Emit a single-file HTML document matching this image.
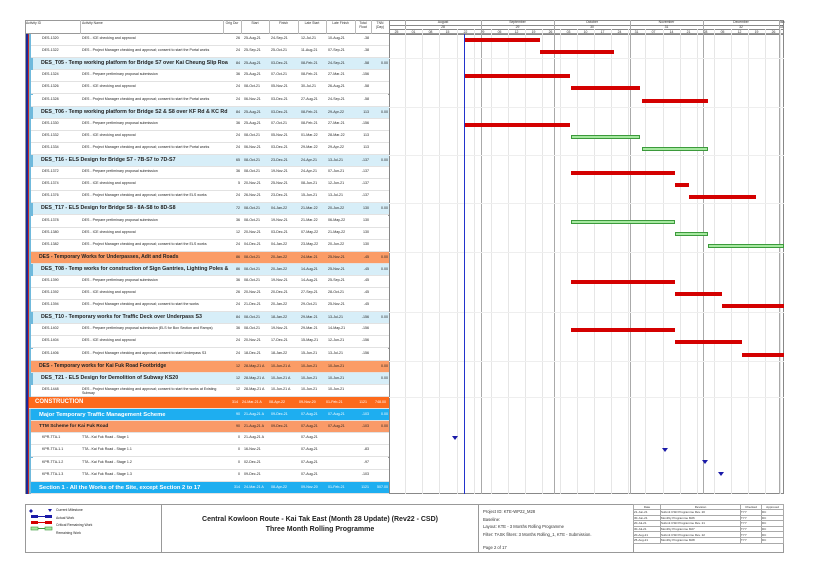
<!DOCTYPE html>
<html><head><meta charset="utf-8"><style>
*{margin:0;padding:0;box-sizing:border-box}
body{width:832px;height:588px;background:#fff;position:relative;overflow:hidden;font-family:"Liberation Sans",sans-serif;color:#222}
.a{position:absolute}
.r{position:absolute;left:31px;width:358px;height:12.1px;font-size:3.6px;border-bottom:1px solid #e2e2e2;background:#fff;line-height:1.1}
.r span{position:absolute;top:3px;white-space:nowrap}
.c1{left:11px}.c2{left:51px;width:138px;white-space:normal!important}
.c3{left:192px;width:17px;text-align:right}.c4{left:213px}.c5{left:240px}.c6{left:270px}.c7{left:297px}.c8{left:324px;width:14px;text-align:right}.c9{left:341px;width:16px;text-align:right}
.b span{top:4px;font-weight:normal;font-size:3.6px}
.b .t{left:8px;font-size:5.3px;font-weight:bold;top:2.5px}
.bl{background:#d7eef8;left:33px;width:356px}
.bl .c3{left:190px}.bl .c4{left:211px}.bl .c5{left:238px}.bl .c6{left:268px}.bl .c7{left:295px}.bl .c8{left:322px}.bl .c9{left:339px}
.or{background:#fb9c66}
.or .t{font-size:5.1px;left:8px}
.bar{position:absolute;height:4px}
.rd{background:#d40000}
.gr{background:#a6e8a0;border:1px solid #3c9a3c}
.vl{position:absolute;top:20px;width:1px;height:474px;background:#e6e6e6}
.ml{background:#aaa}
.hd{position:absolute;font-size:3.4px;text-align:center;color:#333}
</style></head><body>
<div class="a" style="left:25px;top:20px;width:759px;height:14px;border:1px solid #999;background:#fff"></div>
<div class="hd" style="left:26px;top:21px">Activity ID</div>
<div class="hd" style="left:82px;top:21px">Activity Name</div>
<div class="hd" style="left:223px;top:21px;width:18px">Orig Dur</div>
<div class="hd" style="left:241px;top:21px;width:28px">Start</div>
<div class="hd" style="left:269px;top:21px;width:29px">Finish</div>
<div class="hd" style="left:298px;top:21px;width:28px">Late Start</div>
<div class="hd" style="left:326px;top:21px;width:29px">Late Finish</div>
<div class="hd" style="left:355px;top:21px;width:16px">Total<br>Float</div>
<div class="hd" style="left:371px;top:21px;width:18px">TNN<br>(Day)</div>
<div class="a" style="left:80px;top:20px;width:1px;height:14px;background:#bbb"></div>
<div class="a" style="left:223px;top:20px;width:1px;height:14px;background:#bbb"></div>
<div class="a" style="left:241px;top:20px;width:1px;height:14px;background:#bbb"></div>
<div class="a" style="left:269px;top:20px;width:1px;height:14px;background:#bbb"></div>
<div class="a" style="left:298px;top:20px;width:1px;height:14px;background:#bbb"></div>
<div class="a" style="left:326px;top:20px;width:1px;height:14px;background:#bbb"></div>
<div class="a" style="left:355px;top:20px;width:1px;height:14px;background:#bbb"></div>
<div class="a" style="left:371px;top:20px;width:1px;height:14px;background:#bbb"></div>
<div class="a" style="left:25px;top:34px;width:364px;height:460px;border:1px solid #999;border-top:none"></div>
<div class="a" style="left:26px;top:34px;width:1.5px;height:460px;background:#1a2a9a"></div>
<div class="a" style="left:27.5px;top:34px;width:1.5px;height:460px;background:#c03030"></div>
<div class="a" style="left:29px;top:34px;width:4px;height:460px;background:#6fb9dc"></div>

<div class="a" style="left:389px;top:20px;width:395px;height:474px;border:1px solid #888"></div>
<div class="a" style="left:389px;top:25px;width:395px;height:1px;background:#888"></div>
<div class="a" style="left:389px;top:29px;width:395px;height:1px;background:#888"></div>
<div class="a" style="left:389px;top:34px;width:395px;height:1px;background:#888"></div>
<div class="hd" style="left:405px;top:20px;width:76px">August</div>
<div class="hd" style="left:481px;top:20px;width:73px">September</div>
<div class="hd" style="left:554px;top:20px;width:76px">October</div>
<div class="hd" style="left:630px;top:20px;width:73px">November</div>
<div class="hd" style="left:703px;top:20px;width:76px">December</div>
<div class="hd" style="left:779px;top:20px;width:5px">Jan</div>
<div class="hd" style="left:405px;top:25px;width:76px">28</div>
<div class="hd" style="left:481px;top:25px;width:73px">29</div>
<div class="hd" style="left:554px;top:25px;width:76px">30</div>
<div class="hd" style="left:630px;top:25px;width:73px">31</div>
<div class="hd" style="left:703px;top:25px;width:76px">32</div>
<div class="hd" style="left:779px;top:25px;width:5px">33</div>
<div class="hd" style="left:388px;top:30px;width:17px">25</div><div class="hd" style="left:405px;top:30px;width:17px">01</div><div class="hd" style="left:422px;top:30px;width:17px">08</div><div class="hd" style="left:439px;top:30px;width:17px">15</div><div class="hd" style="left:457px;top:30px;width:17px">22</div><div class="hd" style="left:474px;top:30px;width:17px">29</div><div class="hd" style="left:491px;top:30px;width:17px">05</div><div class="hd" style="left:508px;top:30px;width:17px">12</div><div class="hd" style="left:525px;top:30px;width:17px">19</div><div class="hd" style="left:542px;top:30px;width:17px">26</div><div class="hd" style="left:560px;top:30px;width:17px">03</div><div class="hd" style="left:577px;top:30px;width:17px">10</div><div class="hd" style="left:594px;top:30px;width:17px">17</div><div class="hd" style="left:611px;top:30px;width:17px">24</div><div class="hd" style="left:628px;top:30px;width:17px">31</div><div class="hd" style="left:645px;top:30px;width:17px">07</div><div class="hd" style="left:663px;top:30px;width:17px">14</div><div class="hd" style="left:680px;top:30px;width:17px">21</div><div class="hd" style="left:697px;top:30px;width:17px">28</div><div class="hd" style="left:714px;top:30px;width:17px">05</div><div class="hd" style="left:731px;top:30px;width:17px">12</div><div class="hd" style="left:748px;top:30px;width:17px">19</div><div class="hd" style="left:765px;top:30px;width:17px">26</div>
<div class="vl" style="left:405px;top:29px;height:465px"></div><div class="vl" style="left:422px;top:29px;height:465px"></div><div class="vl" style="left:439px;top:29px;height:465px"></div><div class="vl" style="left:457px;top:29px;height:465px"></div><div class="vl" style="left:474px;top:29px;height:465px"></div><div class="vl" style="left:491px;top:29px;height:465px"></div><div class="vl" style="left:508px;top:29px;height:465px"></div><div class="vl" style="left:525px;top:29px;height:465px"></div><div class="vl" style="left:542px;top:29px;height:465px"></div><div class="vl" style="left:560px;top:29px;height:465px"></div><div class="vl" style="left:577px;top:29px;height:465px"></div><div class="vl" style="left:594px;top:29px;height:465px"></div><div class="vl" style="left:611px;top:29px;height:465px"></div><div class="vl" style="left:628px;top:29px;height:465px"></div><div class="vl" style="left:645px;top:29px;height:465px"></div><div class="vl" style="left:663px;top:29px;height:465px"></div><div class="vl" style="left:680px;top:29px;height:465px"></div><div class="vl" style="left:697px;top:29px;height:465px"></div><div class="vl" style="left:714px;top:29px;height:465px"></div><div class="vl" style="left:731px;top:29px;height:465px"></div><div class="vl" style="left:748px;top:29px;height:465px"></div><div class="vl" style="left:765px;top:29px;height:465px"></div><div class="vl" style="left:780px;top:29px;height:465px"></div>
<div class="vl ml" style="left:405px;top:20px;height:9px"></div><div class="vl ml" style="left:481px"></div><div class="vl ml" style="left:554px"></div><div class="vl ml" style="left:630px"></div><div class="vl ml" style="left:703px"></div><div class="vl ml" style="left:779px"></div>
<div class="a" style="left:389px;top:58px;width:395px;height:1px;background:#eee"></div>
<div class="a" style="left:389px;top:107px;width:395px;height:1px;background:#eee"></div>
<div class="a" style="left:389px;top:155px;width:395px;height:1px;background:#eee"></div>
<div class="a" style="left:389px;top:203px;width:395px;height:1px;background:#eee"></div>
<div class="a" style="left:389px;top:252px;width:395px;height:1px;background:#eee"></div>
<div class="a" style="left:389px;top:312px;width:395px;height:1px;background:#eee"></div>
<div class="a" style="left:389px;top:361px;width:395px;height:1px;background:#eee"></div>
<div class="a" style="left:389px;top:397px;width:395px;height:1px;background:#eee"></div>

<div class="r" style="top:34px"><span class="c1">DES-1320</span><span class="c2">DES - ICE checking and approval</span><span class="c3">26</span><span class="c4">25-Aug-21</span><span class="c5">24-Sep-21</span><span class="c6">12-Jul-21</span><span class="c7">10-Aug-21</span><span class="c8">-38</span></div>
<div class="r" style="top:46px"><span class="c1">DES-1322</span><span class="c2">DES - Project Manager checking and approval; consent to start the Portal works</span><span class="c3">24</span><span class="c4">25-Sep-21</span><span class="c5">25-Oct-21</span><span class="c6">11-Aug-21</span><span class="c7">07-Sep-21</span><span class="c8">-38</span></div>
<div class="r b bl" style="top:58px"><span class="t">DES_T05 - Temp working platform for Bridge S7 over Kai Cheung Slip Roa</span><span class="c3">84</span><span class="c4">25-Aug-21</span><span class="c5">03-Dec-21</span><span class="c6">08-Feb-21</span><span class="c7">24-Sep-21</span><span class="c8">-58</span><span class="c9">0.00</span></div>
<div class="r" style="top:70px"><span class="c1">DES-1324</span><span class="c2">DES - Prepare preliminary proposal submission</span><span class="c3">36</span><span class="c4">25-Aug-21</span><span class="c5">07-Oct-21</span><span class="c6">08-Feb-21</span><span class="c7">27-Mar-21</span><span class="c8">-156</span></div>
<div class="r" style="top:82px"><span class="c1">DES-1326</span><span class="c2">DES - ICE checking and approval</span><span class="c3">24</span><span class="c4">08-Oct-21</span><span class="c5">05-Nov-21</span><span class="c6">30-Jul-21</span><span class="c7">26-Aug-21</span><span class="c8">-58</span></div>
<div class="r" style="top:95px"><span class="c1">DES-1328</span><span class="c2">DES - Project Manager checking and approval; consent to start the Portal works</span><span class="c3">24</span><span class="c4">06-Nov-21</span><span class="c5">03-Dec-21</span><span class="c6">27-Aug-21</span><span class="c7">24-Sep-21</span><span class="c8">-58</span></div>
<div class="r b bl" style="top:107px"><span class="t">DES_T06 - Temp working platform for Bridge S2 &amp; S8 over KF Rd &amp; KC Rd</span><span class="c3">84</span><span class="c4">25-Aug-21</span><span class="c5">03-Dec-21</span><span class="c6">08-Feb-21</span><span class="c7">29-Apr-22</span><span class="c8">113</span><span class="c9">0.00</span></div>
<div class="r" style="top:119px"><span class="c1">DES-1330</span><span class="c2">DES - Prepare preliminary proposal submission</span><span class="c3">36</span><span class="c4">25-Aug-21</span><span class="c5">07-Oct-21</span><span class="c6">08-Feb-21</span><span class="c7">27-Mar-21</span><span class="c8">-156</span></div>
<div class="r" style="top:131px"><span class="c1">DES-1332</span><span class="c2">DES - ICE checking and approval</span><span class="c3">24</span><span class="c4">08-Oct-21</span><span class="c5">05-Nov-21</span><span class="c6">01-Mar-22</span><span class="c7">28-Mar-22</span><span class="c8">113</span></div>
<div class="r" style="top:143px"><span class="c1">DES-1334</span><span class="c2">DES - Project Manager checking and approval; consent to start the Portal works</span><span class="c3">24</span><span class="c4">06-Nov-21</span><span class="c5">03-Dec-21</span><span class="c6">29-Mar-22</span><span class="c7">29-Apr-22</span><span class="c8">113</span></div>
<div class="r b bl" style="top:155px"><span class="t">DES_T16 - ELS Design for Bridge S7 - 7B-S7 to 7D-S7</span><span class="c3">65</span><span class="c4">08-Oct-21</span><span class="c5">23-Dec-21</span><span class="c6">24-Apr-21</span><span class="c7">13-Jul-21</span><span class="c8">-137</span><span class="c9">0.00</span></div>
<div class="r" style="top:167px"><span class="c1">DES-1372</span><span class="c2">DES - Prepare preliminary proposal submission</span><span class="c3">36</span><span class="c4">08-Oct-21</span><span class="c5">19-Nov-21</span><span class="c6">24-Apr-21</span><span class="c7">07-Jun-21</span><span class="c8">-137</span></div>
<div class="r" style="top:179px"><span class="c1">DES-1374</span><span class="c2">DES - ICE checking and approval</span><span class="c3">5</span><span class="c4">20-Nov-21</span><span class="c5">25-Nov-21</span><span class="c6">08-Jun-21</span><span class="c7">12-Jun-21</span><span class="c8">-137</span></div>
<div class="r" style="top:191px"><span class="c1">DES-1376</span><span class="c2">DES - Project Manager checking and approval; consent to start the ELS works</span><span class="c3">24</span><span class="c4">26-Nov-21</span><span class="c5">23-Dec-21</span><span class="c6">15-Jun-21</span><span class="c7">13-Jul-21</span><span class="c8">-137</span></div>
<div class="r b bl" style="top:203px"><span class="t">DES_T17 - ELS Design for Bridge S8 - 8A-S8 to 8D-S8</span><span class="c3">72</span><span class="c4">08-Oct-21</span><span class="c5">04-Jan-22</span><span class="c6">21-Mar-22</span><span class="c7">20-Jun-22</span><span class="c8">130</span><span class="c9">0.00</span></div>
<div class="r" style="top:216px"><span class="c1">DES-1378</span><span class="c2">DES - Prepare preliminary proposal submission</span><span class="c3">36</span><span class="c4">08-Oct-21</span><span class="c5">19-Nov-21</span><span class="c6">21-Mar-22</span><span class="c7">06-May-22</span><span class="c8">130</span></div>
<div class="r" style="top:228px"><span class="c1">DES-1380</span><span class="c2">DES - ICE checking and approval</span><span class="c3">12</span><span class="c4">20-Nov-21</span><span class="c5">03-Dec-21</span><span class="c6">07-May-22</span><span class="c7">21-May-22</span><span class="c8">130</span></div>
<div class="r" style="top:240px"><span class="c1">DES-1382</span><span class="c2">DES - Project Manager checking and approval; consent to start the ELS works</span><span class="c3">24</span><span class="c4">04-Dec-21</span><span class="c5">04-Jan-22</span><span class="c6">23-May-22</span><span class="c7">20-Jun-22</span><span class="c8">130</span></div>
<div class="r b or" style="top:252px"><span class="t">DES - Temporary Works for Underpasses, Adit and Roads</span><span class="c3">86</span><span class="c4">08-Oct-21</span><span class="c5">20-Jan-22</span><span class="c6">24-Mar-21</span><span class="c7">25-Nov-21</span><span class="c8">-45</span><span class="c9">0.00</span></div>
<div class="r b bl" style="top:264px"><span class="t">DES_T08 - Temp works for construction of Sign Gantries, Lighting Poles &amp;</span><span class="c3">86</span><span class="c4">08-Oct-21</span><span class="c5">20-Jan-22</span><span class="c6">14-Aug-21</span><span class="c7">25-Nov-21</span><span class="c8">-45</span><span class="c9">0.00</span></div>
<div class="r" style="top:276px"><span class="c1">DES-1390</span><span class="c2">DES - Prepare preliminary proposal submission</span><span class="c3">36</span><span class="c4">08-Oct-21</span><span class="c5">19-Nov-21</span><span class="c6">14-Aug-21</span><span class="c7">25-Sep-21</span><span class="c8">-45</span></div>
<div class="r" style="top:288px"><span class="c1">DES-1392</span><span class="c2">DES - ICE checking and approval</span><span class="c3">26</span><span class="c4">20-Nov-21</span><span class="c5">20-Dec-21</span><span class="c6">27-Sep-21</span><span class="c7">28-Oct-21</span><span class="c8">-45</span></div>
<div class="r" style="top:300px"><span class="c1">DES-1394</span><span class="c2">DES - Project Manager checking and approval; consent to start the works</span><span class="c3">24</span><span class="c4">21-Dec-21</span><span class="c5">20-Jan-22</span><span class="c6">29-Oct-21</span><span class="c7">25-Nov-21</span><span class="c8">-45</span></div>
<div class="r b bl" style="top:312px"><span class="t">DES_T10 - Temporary works for Traffic Deck over Underpass S3</span><span class="c3">84</span><span class="c4">08-Oct-21</span><span class="c5">18-Jan-22</span><span class="c6">29-Mar-21</span><span class="c7">13-Jul-21</span><span class="c8">-156</span><span class="c9">0.00</span></div>
<div class="r" style="top:324px"><span class="c1">DES-1402</span><span class="c2">DES - Prepare preliminary proposal submission (ELS for Box Section and Ramps)</span><span class="c3">36</span><span class="c4">08-Oct-21</span><span class="c5">19-Nov-21</span><span class="c6">29-Mar-21</span><span class="c7">14-May-21</span><span class="c8">-156</span></div>
<div class="r" style="top:336px"><span class="c1">DES-1404</span><span class="c2">DES - ICE checking and approval</span><span class="c3">24</span><span class="c4">20-Nov-21</span><span class="c5">17-Dec-21</span><span class="c6">15-May-21</span><span class="c7">12-Jun-21</span><span class="c8">-156</span></div>
<div class="r" style="top:349px"><span class="c1">DES-1406</span><span class="c2">DES - Project Manager checking and approval; consent to start Underpass S3</span><span class="c3">24</span><span class="c4">18-Dec-21</span><span class="c5">18-Jan-22</span><span class="c6">15-Jun-21</span><span class="c7">13-Jul-21</span><span class="c8">-156</span></div>
<div class="r b or" style="top:361px"><span class="t">DES - Temporary works for Kai Fuk Road Footbridge</span><span class="c3">12</span><span class="c4">28-May-21 A</span><span class="c5">10-Jun-21 A</span><span class="c6">10-Jun-21</span><span class="c7">10-Jun-21</span><span class="c9">0.00</span></div>
<div class="r b bl" style="top:373px"><span class="t">DES_T21 - ELS Design for Demolition of Subway KS20</span><span class="c3">12</span><span class="c4">28-May-21 A</span><span class="c5">10-Jun-21 A</span><span class="c6">10-Jun-21</span><span class="c7">10-Jun-21</span><span class="c9">0.00</span></div>
<div class="r" style="top:385px"><span class="c1">DES-1448</span><span class="c2">DES - Project Manager checking and approval; consent to start the works at Existing Subway</span><span class="c3">12</span><span class="c4">28-May-21 A</span><span class="c5">10-Jun-21 A</span><span class="c6">10-Jun-21</span><span class="c7">10-Jun-21</span></div>
<div class="r b" style="top:397px;left:29px;width:360px;background:#fd6a1c;color:#fff"><span class="t" style="left:6px;font-size:6px;top:2px">CONSTRUCTION</span><span class="c3">314</span><span class="c4">24-Mar-21 A</span><span class="c5">08-Apr-22</span><span class="c6">09-Nov-20</span><span class="c7">01-Feb-21</span><span class="c8">1121</span><span class="c9">748.00</span></div>
<div class="r b" style="top:409px;background:#1eaef0;color:#fff"><span class="t" style="font-size:5.8px">Major Temporary Traffic Management Scheme</span><span class="c3">90</span><span class="c4">21-Aug-21 A</span><span class="c5">09-Dec-21</span><span class="c6">07-Aug-21</span><span class="c7">07-Aug-21</span><span class="c8">-103</span><span class="c9">0.00</span></div>
<div class="r b or" style="top:421px;background:#fa9a68"><span class="t" style="font-size:4.8px">TTM Scheme for Kai Fuk Road</span><span class="c3">90</span><span class="c4">21-Aug-21 A</span><span class="c5">09-Dec-21</span><span class="c6">07-Aug-21</span><span class="c7">07-Aug-21</span><span class="c8">-103</span><span class="c9">0.00</span></div>
<div class="r" style="top:433px"><span class="c1">KPR-TTA-1</span><span class="c2">TTA - Kai Fuk Road - Stage 1</span><span class="c3">0</span><span class="c4">21-Aug-21 A</span><span class="c6">07-Aug-21</span></div>
<div class="r" style="top:445px"><span class="c1">KPR-TTA-1.1</span><span class="c2">TTA - Kai Fuk Road - Stage 1.1</span><span class="c3">0</span><span class="c4">16-Nov-21</span><span class="c6">07-Aug-21</span><span class="c8">-83</span></div>
<div class="r" style="top:458px"><span class="c1">KPR-TTA-1.2</span><span class="c2">TTA - Kai Fuk Road - Stage 1.2</span><span class="c3">0</span><span class="c4">02-Dec-21</span><span class="c6">07-Aug-21</span><span class="c8">-97</span></div>
<div class="r" style="top:470px"><span class="c1">KPR-TTA-1.3</span><span class="c2">TTA - Kai Fuk Road - Stage 1.3</span><span class="c3">0</span><span class="c4">09-Dec-21</span><span class="c6">07-Aug-21</span><span class="c8">-103</span></div>
<div class="r b" style="top:482px;background:#1eaef0;color:#fff"><span class="t" style="font-size:5.8px">Section 1 - All the Works of the Site, except Section 2 to 17</span><span class="c3">314</span><span class="c4">24-Mar-21 A</span><span class="c5">08-Apr-22</span><span class="c6">09-Nov-20</span><span class="c7">01-Feb-21</span><span class="c8">1121</span><span class="c9">507.00</span></div>

<div class="bar rd" style="left:464px;top:38px;width:76px"></div>
<div class="bar rd" style="left:540px;top:50px;width:74px"></div>
<div class="bar rd" style="left:464px;top:74px;width:106px"></div>
<div class="bar rd" style="left:571px;top:86px;width:69px"></div>
<div class="bar rd" style="left:642px;top:99px;width:66px"></div>
<div class="bar rd" style="left:464px;top:123px;width:106px"></div>
<div class="bar gr" style="left:571px;top:135px;width:69px"></div>
<div class="bar gr" style="left:642px;top:147px;width:66px"></div>
<div class="bar rd" style="left:571px;top:171px;width:104px"></div>
<div class="bar rd" style="left:675px;top:183px;width:14px"></div>
<div class="bar rd" style="left:689px;top:195px;width:67px"></div>
<div class="bar gr" style="left:571px;top:220px;width:104px"></div>
<div class="bar gr" style="left:675px;top:232px;width:33px"></div>
<div class="bar gr" style="left:708px;top:244px;width:76px"></div>
<div class="bar rd" style="left:571px;top:280px;width:104px"></div>
<div class="bar rd" style="left:675px;top:292px;width:47px"></div>
<div class="bar rd" style="left:722px;top:304px;width:62px"></div>
<div class="bar rd" style="left:571px;top:328px;width:104px"></div>
<div class="bar rd" style="left:675px;top:340px;width:67px"></div>
<div class="bar rd" style="left:742px;top:353px;width:42px"></div>
<div class="a" style="left:463.5px;top:34px;width:1.5px;height:460px;background:#2233cc"></div>
<svg class="a" style="left:0;top:0" width="832" height="588">
<g fill="#1a1aa8">
<path d="M452,436 h6 l-3,4 z"/><path d="M662,448 h6 l-3,4 z"/><path d="M702,460 h6 l-3,4 z"/><path d="M718,472 h6 l-3,4 z"/>
</g></svg>

<div class="a" style="left:25px;top:504px;width:759px;height:49px;border:1px solid #999"></div>
<div class="a" style="left:161px;top:504px;width:1px;height:49px;background:#999"></div>
<div class="a" style="left:478px;top:504px;width:1px;height:49px;background:#999"></div>
<div class="a" style="left:633px;top:504px;width:1px;height:49px;background:#999"></div>
<svg class="a" style="left:28px;top:506px" width="80" height="30">
<path d="M3,3 l2,2 -2,2 -2,-2z" fill="#1a1aa8"/><path d="M20,3 h4 l-2,3z" fill="#1a1aa8"/>
<rect x="3" y="9" width="7" height="3" fill="#1a1aa8"/><rect x="17" y="9" width="7" height="3" fill="#1a1aa8"/><line x1="10" y1="10.5" x2="17" y2="10.5" stroke="#1a1aa8"/>
<rect x="3" y="15" width="7" height="3" fill="#d40000"/><rect x="17" y="15" width="7" height="3" fill="#d40000"/><line x1="10" y1="16.5" x2="17" y2="16.5" stroke="#d40000"/>
<rect x="3" y="21" width="7" height="3" fill="#a6e8a0" stroke="#3c9a3c" stroke-width=".6"/><rect x="17" y="21" width="7" height="3" fill="#a6e8a0" stroke="#3c9a3c" stroke-width=".6"/><line x1="10" y1="22.5" x2="17" y2="22.5" stroke="#3c9a3c"/>
</svg>
<div class="a" style="left:56px;top:507px;font-size:3.4px;line-height:7.5px">Current Milestone<br>Actual Work<br>Critical Remaining Work<br>Remaining Work</div>
<div class="a" style="left:162px;top:515px;width:316px;text-align:center;font-size:7px;font-weight:bold;line-height:10px">Central Kowloon Route - Kai Tak East (Month 28 Update) (Rev22 - CSD)<br>Three Month Rolling Programme</div>
<div class="a" style="left:483px;top:508px;font-size:4.2px;line-height:7.5px;color:#333">Project ID: KTE-WP22_M28<br>Baseline:<br>Layout: KTE - 3 Months Rolling Programme<br>Filter: TASK filters: 3 Months Rolling_1, KTE - Submission.</div>
<div class="a" style="left:483px;top:545px;font-size:4.2px;color:#333">Page 2 of 17</div>
<table class="a" style="left:633px;top:504px;width:151px;border-collapse:collapse;font-size:3px;color:#333">
<tr style="height:5px"><td style="border:1px solid #aaa;width:27px;text-align:center">Date</td><td style="border:1px solid #aaa;width:80px;text-align:center">Revision</td><td style="border:1px solid #aaa;width:21px;text-align:center">Checked</td><td style="border:1px solid #aaa;text-align:center">Approved</td></tr>
<tr style="height:5.6px"><td style="border:1px solid #aaa">21-Jun-21</td><td style="border:1px solid #aaa">Submit CSD Programme Rev. 20</td><td style="border:1px solid #aaa">TYY</td><td style="border:1px solid #aaa">DC</td></tr>
<tr style="height:5.6px"><td style="border:1px solid #aaa">30-Jun-21</td><td style="border:1px solid #aaa">Monthly Programme M26</td><td style="border:1px solid #aaa">TYY</td><td style="border:1px solid #aaa">DC</td></tr>
<tr style="height:5.6px"><td style="border:1px solid #aaa">20-Jul-21</td><td style="border:1px solid #aaa">Submit CSD Programme Rev. 21</td><td style="border:1px solid #aaa">TYY</td><td style="border:1px solid #aaa">DC</td></tr>
<tr style="height:5.6px"><td style="border:1px solid #aaa">30-Jul-21</td><td style="border:1px solid #aaa">Monthly Programme M27</td><td style="border:1px solid #aaa">TYY</td><td style="border:1px solid #aaa">DC</td></tr>
<tr style="height:5.6px"><td style="border:1px solid #aaa">20-Aug-21</td><td style="border:1px solid #aaa">Submit CSD Programme Rev. 22</td><td style="border:1px solid #aaa">TYY</td><td style="border:1px solid #aaa">DC</td></tr>
<tr style="height:5.6px"><td style="border:1px solid #aaa">25-Aug-21</td><td style="border:1px solid #aaa">Monthly Programme M28</td><td style="border:1px solid #aaa">TYY</td><td style="border:1px solid #aaa">DC</td></tr>
</table>
</body></html>
